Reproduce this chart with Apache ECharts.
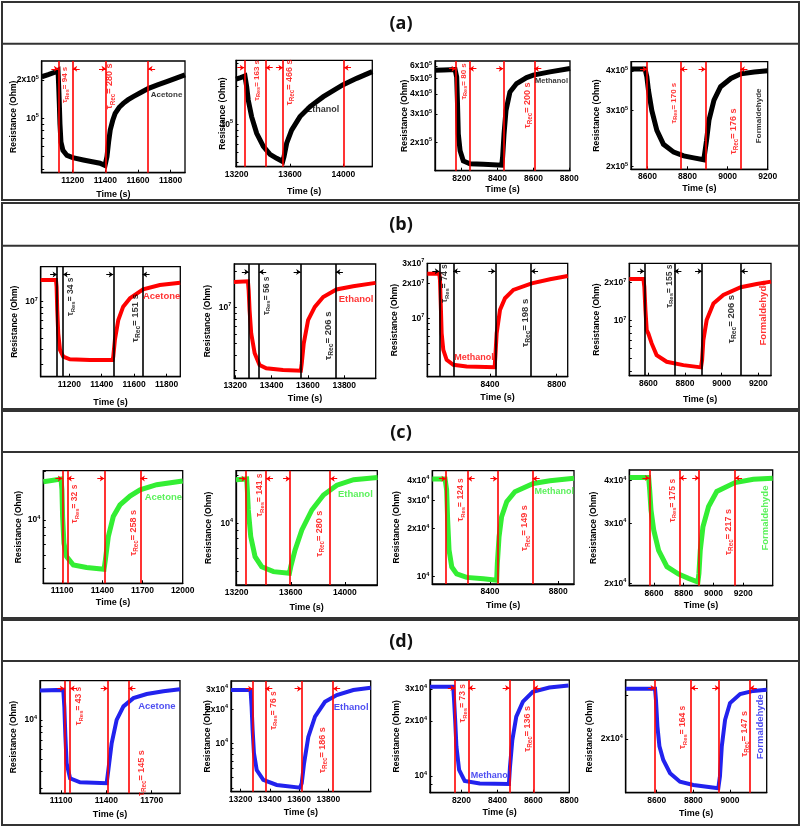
<!DOCTYPE html>
<html><head><meta charset="utf-8">
<script src="https://cdn.jsdelivr.net/npm/echarts@6/dist/echarts.min.js"></script>
<style>html,body{margin:0;padding:0;background:#fff}#c{width:803px;height:828px}</style>
</head><body><div id="c"></div>
<script>
// ---------------- DATA ----------------
const gases = ['Acetone', 'Ethanol', 'Methanol', 'Formaldehyde'];
const rowLabels = ['(a)', '(b)', '(c)', '(d)'];
const tauResA = [94, 163, 80, 170], tauRecA = [280, 466, 200, 176];
const tauResB = [34, 56, 74, 155],  tauRecB = [151, 206, 198, 206];
const tauResC = [32, 141, 124, 175], tauRecC = [258, 280, 149, 217];
const tauResD = [43, 76, 73, 164],  tauRecD = [145, 186, 136, 147];

// (a)
const timeA1 = [11010, 11050, 11090, 11110, 11114, 11118, 11122, 11128, 11140, 11165, 11200, 11265, 11320, 11367, 11398, 11402, 11410, 11420, 11430, 11445, 11460, 11485, 11510, 11540, 11571, 11620, 11665, 11720, 11776, 11830, 11888];
const resA1  = [2.12e5, 2.2e5, 2.3e5, 2.38e5, 1.8e5, 1.3e5, 9.0e4, 6.5e4, 5.6e4, 5.1e4, 4.9e4, 4.7e4, 4.55e4, 4.43e4, 4.25e4, 4.4e4, 5.0e4, 6.5e4, 8.1e4, 9.6e4, 1.09e5, 1.22e5, 1.31e5, 1.4e5, 1.48e5, 1.6e5, 1.72e5, 1.83e5, 1.94e5, 2.06e5, 2.19e5];
const eventsA1 = [11112, 11200, 11404, 11662];
const xTicksA1 = [11200, 11400, 11600, 11800];
const yTicksA1 = [1e5, 2e5];

const timeA2 = [13195, 13230, 13262, 13275, 13287, 13312, 13350, 13400, 13450, 13500, 13545, 13555, 13575, 13612, 13675, 13750, 13850, 13995, 14100, 14217];
const resA2  = [2.27e5, 2.33e5, 2.4e5, 1.98e5, 1.55e5, 1.15e5, 8.5e4, 6.7e4, 5.8e4, 5.4e4, 5.1e4, 5.56e4, 7.1e4, 9.0e4, 1.15e5, 1.38e5, 1.65e5, 2.04e5, 2.3e5, 2.6e5];
const eventsA2 = [13257, 13418, 13547, 14005];
const xTicksA2 = [13200, 13600, 14000];
const yTicksA2 = [1e5];

const timeA3 = [8051, 8100, 8163, 8172, 8176, 8181, 8191, 8209, 8246, 8321, 8423, 8428, 8436, 8447, 8469, 8506, 8562, 8599, 8692, 8804];
const resA3  = [5.63e5, 5.65e5, 5.69e5, 5.1e5, 3.65e5, 2.25e5, 1.77e5, 1.53e5, 1.47e5, 1.46e5, 1.44e5, 1.61e5, 2.25e5, 3.16e5, 4.12e5, 4.65e5, 5.07e5, 5.25e5, 5.5e5, 5.78e5];
const eventsA3 = [8168, 8243, 8432, 8605];
const xTicksA3 = [8200, 8400, 8600, 8800];
const yTicksA3 = [2e5, 3e5, 4e5, 5e5, 6e5];

const timeA4 = [8518, 8588, 8597, 8605, 8622, 8647, 8680, 8731, 8781, 8831, 8881, 8886, 8895, 8907, 8932, 8965, 9016, 9066, 9133, 9200];
const resA4  = [4.06e5, 4.06e5, 3.84e5, 3.48e5, 3.0e5, 2.6e5, 2.35e5, 2.22e5, 2.16e5, 2.13e5, 2.1e5, 2.12e5, 2.42e5, 2.8e5, 3.24e5, 3.57e5, 3.79e5, 3.92e5, 3.97e5, 4.01e5];
const eventsA4 = [8598, 8764, 8890, 9064];
const xTicksA4 = [8600, 8800, 9000, 9200];
const yTicksA4 = [2e5, 3e5, 4e5];

// (b)
const timeB1 = [11024, 11118, 11122, 11126, 11132, 11143, 11163, 11204, 11327, 11467, 11471, 11481, 11502, 11532, 11574, 11655, 11758, 11883];
const resB1  = [1.52e7, 1.52e7, 1.33e7, 8.5e6, 5.45e6, 3.96e6, 3.48e6, 3.31e6, 3.27e6, 3.27e6, 3.48e6, 4.8e6, 7.05e6, 9.1e6, 1.07e7, 1.27e7, 1.38e7, 1.44e7];
const eventsB1 = [11125, 11162, 11471, 11652];
const xTicksB1 = [11200, 11400, 11600, 11800];
const yTicksB1 = [1e7];

const timeB2 = [13193, 13270, 13274, 13279, 13288, 13307, 13334, 13371, 13463, 13561, 13566, 13577, 13601, 13638, 13684, 13757, 13849, 13972];
const resB2  = [1.63e7, 1.65e7, 1.39e7, 9.5e6, 6.07e6, 4.14e6, 3.3e6, 3.1e6, 3.0e6, 2.96e6, 3.4e6, 4.98e6, 7.83e6, 1.01e7, 1.22e7, 1.41e7, 1.5e7, 1.6e7];
const eventsB2 = [13275, 13332, 13560, 13754];
const xTicksB2 = [13200, 13400, 13600, 13800];
const yTicksB2 = [1e7];

const timeB3 = [8024, 8096, 8100, 8104, 8110, 8120, 8140, 8180, 8260, 8428, 8432, 8440, 8460, 8490, 8540, 8650, 8760, 8866];
const resB3  = [2.43e7, 2.43e7, 2.15e7, 1.44e7, 7.4e6, 5.3e6, 4.34e6, 3.93e6, 3.8e6, 3.75e6, 4.6e6, 7.4e6, 1.18e7, 1.49e7, 1.76e7, 2.01e7, 2.18e7, 2.33e7];
const eventsB3 = [8096, 8180, 8432, 8646];
const xTicksB3 = [8400, 8800];
const yTicksB3 = [1e7, 2e7, 3e7];

const timeB4 = [8496, 8573, 8578, 8584, 8591, 8600, 8618, 8645, 8700, 8791, 8887, 8893, 8900, 8918, 8955, 9009, 9104, 9191, 9269];
const resB4  = [2.14e7, 2.14e7, 1.86e7, 1.21e7, 8.4e6, 7.9e6, 6.6e6, 5.33e6, 4.72e6, 4.44e6, 4.26e6, 4.86e6, 7.0e6, 1.01e7, 1.37e7, 1.6e7, 1.84e7, 1.95e7, 2.04e7];
const eventsB4 = [8578, 8742, 8893, 9104];
const xTicksB4 = [8600, 8800, 9000, 9200];
const yTicksB4 = [1e7, 2e7];

// (c)
const timeC1 = [10960, 11092, 11099, 11104, 11114, 11134, 11184, 11283, 11413, 11423, 11445, 11482, 11532, 11607, 11682, 11806, 12000];
const resC1  = [1.73e4, 1.8e4, 1.54e4, 1.05e4, 7.15e3, 5.9e3, 5.23e3, 5.04e3, 4.92e3, 5.62e3, 7.87e3, 1.05e4, 1.24e4, 1.41e4, 1.54e4, 1.66e4, 1.75e4];
const eventsC1 = [11102, 11139, 11415, 11684];
const xTicksC1 = [11100, 11400, 11700, 12000];
const yTicksC1 = [1e4];

const timeC2 = [13195, 13274, 13279, 13286, 13304, 13336, 13385, 13472, 13590, 13600, 13632, 13682, 13756, 13842, 13941, 14065, 14242];
const resC2  = [1.87e4, 1.89e4, 1.61e4, 1.21e4, 8.25e3, 6.18e3, 5.35e3, 4.98e3, 4.87e3, 5.35e3, 6.81e3, 9.08e3, 1.21e4, 1.5e4, 1.73e4, 1.87e4, 1.93e4];
const eventsC2 = [13269, 13417, 13595, 13892];
const xTicksC2 = [13200, 13600, 14000];
const yTicksC2 = [1e4];

const timeC3 = [8062, 8137, 8146, 8152, 8160, 8176, 8205, 8263, 8361, 8439, 8443, 8453, 8468, 8498, 8546, 8654, 8751, 8892];
const resC3  = [4.08e4, 4.08e4, 3.48e4, 2.26e4, 1.47e4, 1.15e4, 1.04e4, 9.9e3, 9.7e3, 9.5e3, 1.21e4, 1.78e4, 2.37e4, 2.94e4, 3.4e4, 3.83e4, 3.98e4, 4.12e4];
const eventsC3 = [8142, 8269, 8443, 8650];
const xTicksC3 = [8400, 8800];
const yTicksC3 = [1e4, 2e4, 3e4, 4e4];

const timeC4 = [8437, 8564, 8571, 8580, 8598, 8631, 8687, 8765, 8832, 8895, 8902, 8911, 8929, 8967, 9022, 9145, 9268, 9398];
const resC4  = [4.09e4, 4.09e4, 3.76e4, 3.28e4, 2.87e4, 2.5e4, 2.24e4, 2.13e4, 2.07e4, 2.02e4, 2.14e4, 2.5e4, 2.93e4, 3.36e4, 3.72e4, 3.95e4, 4.04e4, 4.07e4];
const eventsC4 = [8569, 8772, 8904, 9145];
const xTicksC4 = [8600, 8800, 9000, 9200];
const yTicksC4 = [2e4, 3e4, 4e4];

// (d)
const timeD1 = [10961, 11115, 11122, 11129, 11137, 11160, 11226, 11402, 11413, 11435, 11468, 11513, 11579, 11667, 11777, 11887];
const resD1  = [1.68e4, 1.7e4, 1.26e4, 7.45e3, 4.65e3, 3.56e3, 3.32e3, 3.26e3, 4.12e3, 6.62e3, 1.0e4, 1.27e4, 1.47e4, 1.58e4, 1.66e4, 1.72e4];
const eventsD1 = [11122, 11160, 11409, 11546];
const xTicksD1 = [11100, 11400, 11700];
const yTicksD1 = [1e4];

const timeD2 = [13134, 13268, 13275, 13282, 13291, 13310, 13355, 13447, 13606, 13618, 13634, 13663, 13709, 13777, 13858, 13971, 14090];
const resD2  = [2.96e4, 2.96e4, 2.11e4, 1.31e4, 8.2e3, 5.8e3, 4.74e3, 4.28e3, 4.05e3, 4.43e3, 6.65e3, 1.14e4, 1.72e4, 2.33e4, 2.67e4, 2.96e4, 3.1e4];
const eventsD2 = [13282, 13369, 13617, 13833];
const xTicksD2 = [13200, 13400, 13600, 13800];
const yTicksD2 = [1e4, 2e4, 3e4];

const timeD3 = [8025, 8154, 8159, 8165, 8172, 8187, 8218, 8302, 8464, 8470, 8483, 8505, 8542, 8597, 8689, 8796];
const resD3  = [3.08e4, 3.08e4, 2.6e4, 2.02e4, 1.45e4, 1.08e4, 9.4e3, 9.1e3, 9.05e3, 1.12e4, 1.57e4, 2.11e4, 2.55e4, 2.89e4, 3.05e4, 3.13e4];
const eventsD3 = [8163, 8239, 8468, 8602];
const xTicksD3 = [8200, 8400, 8600, 8800];
const yTicksD3 = [1e4, 2e4, 3e4];

const timeD4 = [8431, 8591, 8596, 8604, 8615, 8636, 8673, 8727, 8800, 8936, 8945, 8955, 8973, 9000, 9055, 9127, 9200];
const resD4  = [3.18e4, 3.18e4, 2.87e4, 2.25e4, 1.87e4, 1.65e4, 1.46e4, 1.35e4, 1.31e4, 1.27e4, 1.42e4, 1.87e4, 2.39e4, 2.79e4, 3.03e4, 3.12e4, 3.15e4];
const eventsD4 = [8591, 8787, 8941, 9108];
const xTicksD4 = [8600, 8800, 9000];
const yTicksD4 = [2e4];

// ---------------- LAYOUT (pixels / axis extents / label anchors) ----------------
const layout = {
  a1: {box: [41.7, 61, 143.3, 111.7], x: [11010, 11888], y: [3.73e4, 2.82e5], res: [11153, 1.83e5], rec: [11428, 1.78e5], gas: [11775, 1.52e5], yn: 28.4, xn: 22.3},
  a2: {box: [236, 60.3, 136.3, 106.4], x: [13195, 14217], y: [4.64e4, 3.19e5], res: [13350, 2.22e5], rec: [13594, 2.14e5], gas: [13845, 1.31e5], yn: 13.3, xn: 25},
  a3: {box: [435, 61, 135, 109.7], x: [8051, 8804], y: [1.33e5, 6.43e5], res: [8209, 4.8e5], rec: [8568, 3.4e5], gas: [8701, 4.8e5], yn: 30, xn: 19.3},
  a4: {box: [631, 61.7, 136.7, 107.6], x: [8518, 9200], y: [1.96e5, 4.28e5], res: [8731, 3.17e5], rec: [9029, 2.58e5], gas: [9158, 2.89e5], yn: 34.3, xn: 19.7},
  b1: {box: [40.7, 266.7, 139.6, 110], x: [11024, 11884], y: [2.37e6, 1.96e7], res: [11210, 1.1e7], rec: [11610, 7.3e6], gas: [11769, 1.1e7], yn: 25.7, xn: 26.3},
  b2: {box: [234.3, 264, 141.4, 114.3], x: [13195, 13973], y: [2.56e6, 2.3e7], res: [13371, 1.25e7], rec: [13711, 5.8e6], gas: [13865, 1.17e7], yn: 27, xn: 20.7},
  b3: {box: [427.3, 263.3, 140.4, 113.4], x: [8024, 8866], y: [3.1e6, 3.0e7], res: [8130, 2.0e7], rec: [8610, 9.1e6], gas: [8304, 4.58e6], yn: 32.3, xn: 21.6},
  b4: {box: [629.3, 263.3, 141.7, 112.4], x: [8496, 9269], y: [3.66e6, 2.85e7], res: [8714, 1.88e7], rec: [9051, 1.03e7], gas: [9225, 1.15e7], yn: 32.6, xn: 24.3},
  c1: {box: [43.3, 470.7, 139.4, 112.6], x: [10960, 12000], y: [4.02e3, 2.03e4], res: [11197, 1.26e4], rec: [11632, 8.3e3], gas: [11856, 1.39e4], yn: 25, xn: 20},
  c2: {box: [236, 470.7, 141.3, 114.3], x: [13195, 14240], y: [4.11e3, 2.13e4], res: [13368, 1.5e4], rec: [13813, 8.6e3], gas: [14078, 1.52e4], yn: 27.7, xn: 23},
  c3: {box: [432.3, 470.7, 141.7, 113.3], x: [8062, 8892], y: [9.0e3, 4.6e4], res: [8230, 3.02e4], rec: [8605, 2.01e4], gas: [8776, 3.4e4], yn: 35.6, xn: 22},
  c4: {box: [629.3, 470, 143.4, 115.7], x: [8434, 9398], y: [1.97e4, 4.3e4], res: [8723, 3.5e4], rec: [9098, 2.83e4], gas: [9350, 3.11e4], yn: 36, xn: 20.3},
  d1: {box: [40, 680.7, 140, 112.6], x: [10961, 11887], y: [2.73e3, 2.0e4], res: [11219, 1.28e4], rec: [11634, 3.9e3], gas: [11734, 1.28e4], yn: 26, xn: 21.7},
  d2: {box: [231, 681, 139.7, 110.7], x: [13134, 14090], y: [3.73e3, 3.56e4], res: [13423, 1.95e4], rec: [13762, 8.7e3], gas: [13956, 2.08e4], yn: 23.7, xn: 21.6},
  d3: {box: [430, 680, 139.3, 112.7], x: [8025, 8800], y: [8.1e3, 3.35e4], res: [8209, 2.5e4], rec: [8569, 1.81e4], gas: [8361, 1e4], yn: 33.3, xn: 20},
  d4: {box: [625.7, 680, 141, 112.7], x: [8431, 9200], y: [1.22e4, 3.45e4], res: [8742, 2.23e4], rec: [9081, 2.1e4], gas: [9168, 2.24e4], yn: 35.7, xn: 21.3}
};
const sections = [ // [top, headerBottom, bottom]
  [2, 43.7, 200], [203, 245.7, 409], [411, 452, 618], [620, 661, 825]
];
const rowStyle = {
  a: {curve: '#000000', line: '#ff0000', ann: '#ff0000', gas: '#000000', lw: 5, resSize: 8, recSize: 9, gasSize: [8, 9, 7.5, 8]},
  b: {curve: '#ff0000', line: '#000000', ann: '#000000', gas: '#ff0000', lw: 4, resSize: 8.5, recSize: 9.5, gasSize: [9.5, 9.5, 9, 9.5]},
  c: {curve: '#33ee33', line: '#ff0000', ann: '#ff0000', gas: '#33ee33', lw: 5, resSize: 8.5, recSize: 9, gasSize: [9.5, 9.5, 9, 9.5]},
  d: {curve: '#2222ee', line: '#ff0000', ann: '#ff0000', gas: '#2222ee', lw: 4, resSize: 8.5, recSize: 9, gasSize: [9.5, 9.5, 9, 9.5]}
};
const F = '"Liberation Sans", Arial, sans-serif';

const panelData = {
  a: [[timeA1, resA1, eventsA1, xTicksA1, yTicksA1], [timeA2, resA2, eventsA2, xTicksA2, yTicksA2], [timeA3, resA3, eventsA3, xTicksA3, yTicksA3], [timeA4, resA4, eventsA4, xTicksA4, yTicksA4]],
  b: [[timeB1, resB1, eventsB1, xTicksB1, yTicksB1], [timeB2, resB2, eventsB2, xTicksB2, yTicksB2], [timeB3, resB3, eventsB3, xTicksB3, yTicksB3], [timeB4, resB4, eventsB4, xTicksB4, yTicksB4]],
  c: [[timeC1, resC1, eventsC1, xTicksC1, yTicksC1], [timeC2, resC2, eventsC2, xTicksC2, yTicksC2], [timeC3, resC3, eventsC3, xTicksC3, yTicksC3], [timeC4, resC4, eventsC4, xTicksC4, yTicksC4]],
  d: [[timeD1, resD1, eventsD1, xTicksD1, yTicksD1], [timeD2, resD2, eventsD2, xTicksD2, yTicksD2], [timeD3, resD3, eventsD3, xTicksD3, yTicksD3], [timeD4, resD4, eventsD4, xTicksD4, yTicksD4]]
};
const tauData = {a: [tauResA, tauRecA], b: [tauResB, tauRecB], c: [tauResC, tauRecC], d: [tauResD, tauRecD]};

// ---------------- BUILD ----------------
function expLabel(v) {
  const e = Math.floor(Math.log10(v) + 1e-6);
  const m = Math.round(v / Math.pow(10, e));
  return (m === 1 ? '{b|10}' : '{b|' + m + 'x10}') + '{s|' + e + '}';
}
const lg = Math.log10;

const option = {animation: false, backgroundColor: '#ffffff', grid: [], xAxis: [], yAxis: [], series: [], graphic: []};

['a', 'b', 'c', 'd'].forEach((row, ri) => {
  const st = rowStyle[row];
  panelData[row].forEach((pd, col) => {
    const [t, r, ev, xt, yt] = pd;
    const L = layout[row + (col + 1)];
    const i = ri * 4 + col;
    const lmin = lg(L.y[0]), lmax = lg(L.y[1]);
    option.grid.push({left: L.box[0], top: L.box[1], width: L.box[2], height: L.box[3], show: true, borderColor: '#000', borderWidth: 1.3, backgroundColor: 'transparent'});
    option.xAxis.push({
      type: 'value', gridIndex: i, min: L.x[0], max: L.x[1],
      axisLine: {show: true, onZero: false, lineStyle: {color: '#000', width: 1.3}},
      splitLine: {show: false},
      axisTick: {show: true, inside: true, length: 3, customValues: xt, lineStyle: {color: '#000', width: 1}},
      axisLabel: {customValues: xt, formatter: (v) => String(Math.round(v)), fontSize: 8.5, fontWeight: 'bold', fontFamily: F, color: '#000', margin: 3},
      name: 'Time (s)', nameLocation: 'middle', nameGap: L.xn - 5, nameMoveOverlap: false,
      nameTextStyle: {fontSize: 9, fontWeight: 'bold', fontFamily: F, color: '#000'}
    });
    const minor = [];
    for (let e = Math.floor(lmin); e <= Math.ceil(lmax); e++) {
      for (let m = 1; m <= 9; m++) { const v = lg(m) + e; if (v >= lmin && v <= lmax) minor.push(v); }
    }
    option.yAxis.push({
      type: 'value', gridIndex: i, min: lmin, max: lmax,
      axisLine: {show: true, onZero: false, lineStyle: {color: '#000', width: 1.3}},
      splitLine: {show: false},
      axisTick: {show: true, inside: true, length: 2.5, customValues: minor, lineStyle: {color: '#000', width: 1}},
      axisLabel: {
        customValues: yt.map(lg), margin: 3, color: '#000',
        formatter: (val) => expLabel(Math.pow(10, val)),
        rich: {
          b: {fontSize: 8.5, fontWeight: 'bold', fontFamily: F, color: '#000', lineHeight: 11},
          s: {fontSize: 5.5, fontWeight: 'bold', fontFamily: F, color: '#000', verticalAlign: 'top'}
        }
      },
      name: 'Resistance (Ohm)', nameLocation: 'middle', nameGap: L.yn - 4.5, nameMoveOverlap: false,
      nameTextStyle: {fontSize: 8.5, fontWeight: 'bold', fontFamily: F, color: '#000'}
    });
    // sensor response curve with event lines
    option.series.push({
      type: 'line', xAxisIndex: i, yAxisIndex: i, showSymbol: false, silent: true,
      data: t.map((tv, k) => [tv, lg(r[k])]),
      lineStyle: {color: st.curve, width: st.lw, cap: 'butt', join: 'miter'},
      markLine: {
        silent: true, symbol: ['none', 'none'], label: {show: false}, animation: false,
        lineStyle: {color: st.line, width: 1.6, type: 'solid'},
        emphasis: {disabled: true},
        data: ev.map(v => ({xAxis: v}))
      },
      z: 3
    });
    // arrows at the top
    const yA = lmax - 0.07 * (lmax - lmin);
    const dx = 7 / L.box[2] * (L.x[1] - L.x[0]);
    const segs = [[ev[0] - dx, ev[0]], [ev[1] + dx, ev[1]], [ev[2] - dx, ev[2]], [ev[3] + dx, ev[3]]];
    option.series.push({
      type: 'lines', coordinateSystem: 'cartesian2d', xAxisIndex: i, yAxisIndex: i, silent: true,
      symbol: ['none', 'arrow'], symbolSize: 4.5,
      lineStyle: {color: st.line, width: 1, opacity: 1, curveness: 0},
      data: segs.map(s => ({coords: [[s[0], yA], [s[1], yA]]})), z: 5
    });
    // annotations
    const [tr, tc] = tauData[row];
    const mk = (fs) => ({
      t: {fontSize: fs, fontWeight: 'bold', fontFamily: F, color: st.ann, lineHeight: fs * 1.3},
      s: {fontSize: fs * 0.7, fontWeight: 'bold', fontFamily: F, color: st.ann, verticalAlign: 'bottom'}
    });
    option.series.push({
      type: 'scatter', xAxisIndex: i, yAxisIndex: i, symbolSize: 0, silent: true, z: 6,
      label: {show: true, position: 'inside', rotate: 90},
      data: [
        {value: [L.res[0], lg(L.res[1])], label: {formatter: '{t|τ}{s|Res}{t|= ' + tr[col] + ' s}', rich: mk(st.resSize)}},
        {value: [L.rec[0], lg(L.rec[1])], label: {formatter: '{t|τ}{s|Rec}{t|= ' + tc[col] + ' s}', rich: mk(st.recSize)}},
        {value: [L.gas[0], lg(L.gas[1])], label: {formatter: gases[col], rotate: col === 3 ? 90 : 0, color: st.gas, fontSize: st.gasSize[col], fontWeight: 'bold', fontFamily: F}}
      ]
    });
  });
});

// section frames and headers
sections.forEach((s, k) => {
  option.graphic.push({type: 'rect', shape: {x: 2, y: s[0], width: 797, height: s[2] - s[0]}, style: {fill: 'none', stroke: '#333', lineWidth: 2}, silent: true, z: 100});
  option.graphic.push({type: 'line', shape: {x1: 2, y1: s[1], x2: 799, y2: s[1]}, style: {stroke: '#333', lineWidth: 2}, silent: true, z: 100});
  option.graphic.push({type: 'text', x: 401, y: (s[0] + s[1]) / 2 + 1, style: {text: rowLabels[k], fill: '#111', font: 'bold 18px "Open Sans", "Liberation Sans", sans-serif', textAlign: 'center', textVerticalAlign: 'middle'}, silent: true, z: 100});
});

const chart = echarts.init(document.getElementById('c'), null, {renderer: 'canvas', width: 803, height: 828});
chart.setOption(option);
</script></body></html>
